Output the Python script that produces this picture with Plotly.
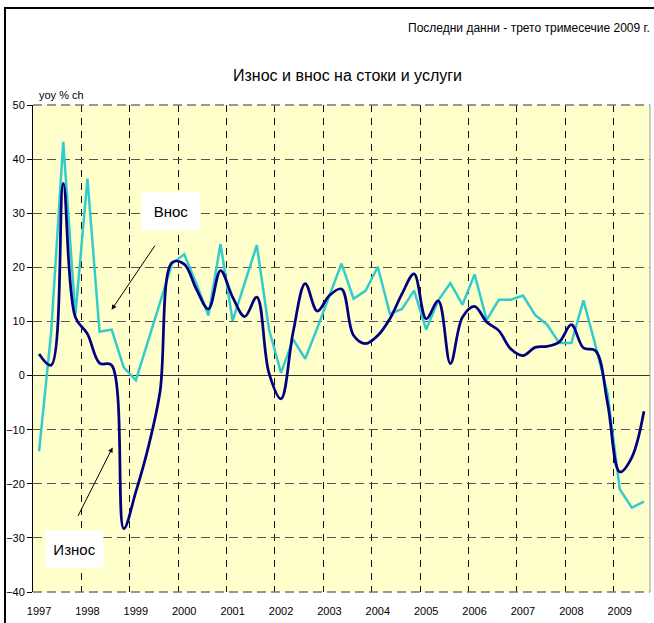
import plotly.graph_objects as go

# ---- data (quarterly, y/y % change) ----
years = list(range(1997, 2010))
quarters = [(y, q) for y in years for q in (1, 2, 3, 4)][:51]  # 1997Q1 .. 2009Q3

imports_vnos = [
    -14.0, 8.0, 43.2, 11.1,
    36.4, 8.1, 8.5, 1.5,
    -0.9, 6.2, 13.3, 20.7,
    22.4, 17.0, 11.1, 24.3,
    10.1, 17.2, 24.1, 8.6,
    0.5, 6.7, 3.1, 8.8,
    14.8, 20.7, 14.2, 15.7,
    20.1, 11.4, 12.3, 15.7,
    8.5, 13.9, 17.1, 13.1,
    18.7, 10.3, 14.0, 14.0,
    14.8, 11.2, 9.4, 6.0,
    6.0, 13.9, 5.5, -3.4,
    -21.0, -24.4, -23.3,
]

exports_iznos = [
    4.0, 1.9, 35.5, 10.8,
    7.7, 2.3, 1.9, -28.3,
    -21.5, -13.5, -3.0, 20.9,
    20.6, 16.0, 12.3, 19.4,
    14.5, 10.9, 14.5, 0.5,
    -4.3, 8.0, 17.0, 11.9,
    14.8, 16.0, 7.4, 5.9,
    7.4, 10.5, 15.1, 18.8,
    10.5, 13.8, 2.2, 10.8,
    12.8, 9.9, 8.3, 4.9,
    3.7, 5.2, 5.4, 6.2,
    9.4, 5.1, 4.6, -5.2,
    -17.8, -15.1, -6.6,
]

year_labels = [str(y) for y in years]

# position of each quarter in fractional years (middle of the quarter)
xq = [y + (q - 0.5) / 4 for (y, q) in quarters]

FONT = "Liberation Sans, Arial, sans-serif"

fig = go.Figure()
fig.add_trace(go.Scatter(x=xq, y=imports_vnos, mode="lines", name="Внос",
                         line=dict(color="#33CCCC", width=2.5)))
fig.add_trace(go.Scatter(x=xq, y=exports_iznos, mode="lines", name="Износ",
                         line=dict(color="#000080", width=2.75, shape="spline", smoothing=1.0)))

fig.update_layout(
    width=654, height=623,
    margin=dict(l=33, r=4, t=105, b=31),
    paper_bgcolor="white",
    plot_bgcolor="#FFFFCC",
    showlegend=False,
    font=dict(family=FONT, color="black", size=11),
    xaxis=dict(
        range=[1997, 2009.75],
        tickmode="array",
        tickvals=[y + 0.125 for y in years],
        ticktext=year_labels,
        ticks="outside", ticklen=9, tickcolor="rgba(0,0,0,0)",
        showgrid=False, zeroline=False, showline=False,
        tickfont=dict(size=11),
        minor=dict(tickmode="linear", tick0=1997, dtick=1, showgrid=True,
                   gridcolor="#111111", griddash="7px,6px", gridwidth=1, ticks=""),
    ),
    yaxis=dict(
        range=[-40, 50], tickmode="linear", tick0=0, dtick=10,
        showgrid=True, gridcolor="#555555", griddash="9px,5px", gridwidth=1,
        zeroline=True, zerolinecolor="#333333", zerolinewidth=1.2,
        showline=True, linecolor="black", linewidth=1,
        ticks="outside", ticklen=5, tickcolor="black",
        tickfont=dict(size=11),
    ),
)

# top/bottom dashed borders, right edge of plot area and outer frame
for yy in (0, 1):
    fig.add_shape(type="line", xref="paper", yref="paper", x0=0, x1=1, y0=yy, y1=yy,
                  line=dict(color="#777777", width=1.5, dash="9px,5px"))
fig.add_shape(type="line", xref="paper", yref="paper", x0=1, x1=1, y0=0, y1=1,
              line=dict(color="#9a9a9a", width=1))
fig.add_shape(type="rect", xref="paper", yref="paper",
              x0=-0.0454, x1=1.05, y0=-0.2, y1=1.1992,
              line=dict(color="black", width=2), fillcolor="rgba(0,0,0,0)")

# texts
fig.add_annotation(text="Последни данни - трето тримесечие 2009 г.", xref="paper", yref="paper",
                   x=1.0032, y=1.158, xanchor="right", yanchor="middle", showarrow=False,
                   font=dict(size=12))
fig.add_annotation(text="Износ и внос на стоки и услуги", xref="paper", yref="paper",
                   x=0.509, y=1.0616, xanchor="center", yanchor="middle", showarrow=False,
                   font=dict(size=16))
fig.add_annotation(text="yoy % ch", xref="paper", yref="paper",
                   x=0.047, y=1.0205, xanchor="center", yanchor="middle", showarrow=False,
                   font=dict(size=11))

# labels with boxes
fig.add_annotation(text="Внос", x=1999.848, y=30.28, xref="x", yref="y", showarrow=False,
                   bgcolor="white", width=56, height=35, borderpad=1,
                   font=dict(size=15))
fig.add_annotation(text="Износ", x=1997.857, y=-32.04, xref="x", yref="y", showarrow=False,
                   bgcolor="white", width=55, height=34, borderpad=1,
                   font=dict(size=15))

# arrows
fig.add_annotation(text="", x=1998.624, y=12.17, ax=1999.539, ay=24.26,
                   xref="x", yref="y", axref="x", ayref="y", showarrow=True,
                   arrowhead=2, arrowsize=1, arrowwidth=1, arrowcolor="black")
fig.add_annotation(text="", x=1998.645, y=-13.28, ax=1997.914, ay=-26.24,
                   xref="x", yref="y", axref="x", ayref="y", showarrow=True,
                   arrowhead=2, arrowsize=1, arrowwidth=1, arrowcolor="black")

fig.write_html("out.html", config={"displayModeBar": False},
               post_script="document.body.style.margin='0px';")
